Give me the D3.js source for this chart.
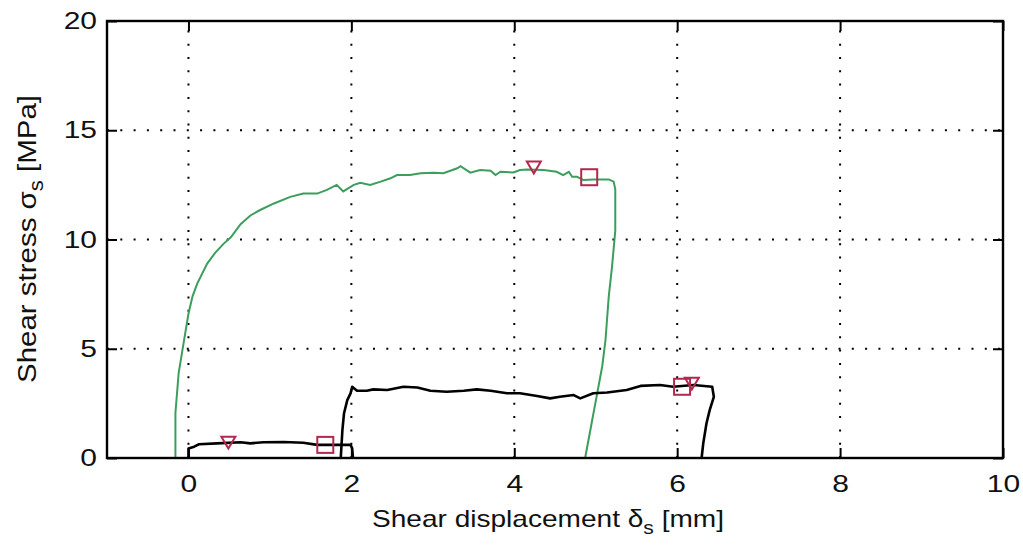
<!DOCTYPE html>
<html><head><meta charset="utf-8">
<script src="https://cdn.jsdelivr.net/npm/d3@7"></script>
<style>body{margin:0;background:#fff}svg{display:block}text{font-family:"Liberation Sans",Arial,sans-serif}</style>
</head><body><svg id="c" width="1023" height="548"></svg>
<script>
// ---- data ----
const xTicks = [0, 2, 4, 6, 8, 10];
const yTicks = [0, 5, 10, 15, 20];
const greenX = [-0.16,-0.16,-0.12,-0.08,-0.04,0.0,0.05,0.11,0.15,0.23,0.33,0.43,0.52,0.64,0.76,0.88,1.05,1.25,1.41,1.58,1.70,1.82,1.90,2.03,2.11,2.23,2.36,2.48,2.56,2.72,2.85,3.01,3.13,3.30,3.34,3.46,3.58,3.71,3.77,3.83,3.99,4.07,4.16,4.36,4.52,4.60,4.67,4.71,4.77,4.85,4.97,5.06,5.16,5.22,5.24,5.24,5.20,5.16,5.12,5.08,5.01,4.95,4.87];
const greenY = [0.0,2.06,3.9,4.8,5.7,6.6,7.4,8.0,8.3,8.9,9.4,9.8,10.1,10.7,11.1,11.35,11.65,11.95,12.1,12.1,12.27,12.5,12.2,12.5,12.6,12.5,12.65,12.8,12.95,12.95,13.03,13.06,13.03,13.26,13.36,13.06,13.18,13.15,12.95,13.1,13.07,13.18,13.2,13.18,13.1,12.95,13.1,12.87,12.87,12.72,12.75,12.75,12.75,12.65,12.3,10.4,8.75,7.4,5.4,4.2,2.8,1.6,0.0];
const black1X = [0.0,0.0,0.07,0.13,0.35,0.64,0.76,0.92,1.17,1.41,1.58,1.99,2.01,2.02];
const black1Y = [0.0,0.44,0.52,0.63,0.67,0.72,0.67,0.72,0.73,0.70,0.60,0.60,0.44,0.0];
const black2X = [1.87,1.89,1.91,1.95,1.99,2.01,2.07,2.19,2.27,2.44,2.64,2.81,2.97,3.17,3.38,3.54,3.71,3.91,4.07,4.28,4.44,4.56,4.73,4.81,4.97,5.14,5.38,5.55,5.79,5.95,6.20,6.43,6.45,6.40,6.36,6.32,6.30];
const black2Y = [0.0,1.28,2.05,2.65,2.96,3.26,3.08,3.08,3.14,3.11,3.26,3.23,3.08,3.03,3.08,3.14,3.08,2.96,2.96,2.84,2.73,2.80,2.88,2.73,2.96,3.00,3.11,3.30,3.34,3.26,3.34,3.26,2.80,2.20,1.59,0.67,0.0];
const triX = [0.49, 4.24, 6.18];
const triY = [0.75, 13.34, 3.45];
const sqX = [1.68, 4.92, 6.06];
const sqY = [0.60, 12.85, 3.26];

// ---- layout ----
const svg = d3.select("#c");
const L = 107, R = 1003, T = 21, B = 458;
const x = d3.scaleLinear().domain([-1, 10]).range([L, R]);
const y = d3.scaleLinear().domain([0, 20]).range([B, T]);
const FS = 24, SX = 1.25;

// grid
const grid = svg.append("g").attr("stroke", "#000").attr("stroke-width", 2)
  .attr("stroke-dasharray", "2 11.3");
xTicks.filter(t => t > -1 && t < 10).forEach(t => {
  grid.append("line").attr("x1", x(t)).attr("x2", x(t)).attr("y1", B).attr("y2", T);
});
yTicks.filter(t => t > 0 && t < 20).forEach(t => {
  grid.append("line").attr("x1", L).attr("x2", R).attr("y1", y(t)).attr("y2", y(t));
});

// axes (ticks inside)
const tl = 10;
const ax = svg.append("g");
ax.append("g").attr("transform", `translate(0,${B})`)
  .call(d3.axisBottom(x).tickValues(xTicks).tickSizeInner(-tl).tickSizeOuter(0).tickPadding(17))
  .call(g => g.select(".domain").remove());
ax.append("g").attr("transform", `translate(0,${T})`)
  .call(d3.axisTop(x).tickValues(xTicks).tickSizeInner(-tl).tickSizeOuter(0).tickFormat(""))
  .call(g => g.select(".domain").remove());
ax.append("g").attr("transform", `translate(${L},0)`)
  .call(d3.axisLeft(y).tickValues(yTicks).tickSizeInner(-tl).tickSizeOuter(0).tickPadding(8))
  .call(g => g.select(".domain").remove());
ax.append("g").attr("transform", `translate(${R},0)`)
  .call(d3.axisRight(y).tickValues(yTicks).tickSizeInner(-tl).tickSizeOuter(0).tickFormat(""))
  .call(g => g.select(".domain").remove());
ax.selectAll(".tick line").attr("stroke", "#000").attr("stroke-width", 2);
ax.selectAll(".tick text").attr("font-size", FS).attr("fill", "#111")
  .attr("font-family", "Liberation Sans, Arial, sans-serif")
  .attr("transform", `scale(${SX},1)`);

// curves
const line = d3.line().x(d => x(d[0])).y(d => y(d[1]));
const curves = svg.append("g");
curves.append("path").datum(greenX.map((v, i) => [v, greenY[i]]))
  .attr("d", line).attr("fill", "none").attr("stroke", "#3c9e5c").attr("stroke-width", 2);
[[black1X, black1Y], [black2X, black2Y]].forEach(([xs, ys]) => {
  curves.append("path").datum(xs.map((v, i) => [v, ys[i]]))
    .attr("d", line).attr("fill", "none").attr("stroke", "#000").attr("stroke-width", 2.6)
    .attr("stroke-linejoin", "round");
});

// markers
const mk = "#b3284d";
const ts = 7;
triX.forEach((v, i) => {
  const cx = x(v), cy = y(triY[i]);
  svg.append("path").attr("d", `M${cx - ts},${cy - ts * 0.7}L${cx + ts},${cy - ts * 0.7}L${cx},${cy + ts}Z`)
    .attr("fill", "none").attr("stroke", mk).attr("stroke-width", 2);
});
const ss = 8;
sqX.forEach((v, i) => {
  svg.append("rect").attr("x", x(v) - ss).attr("y", y(sqY[i]) - ss).attr("width", 2 * ss).attr("height", 2 * ss)
    .attr("fill", "none").attr("stroke", mk).attr("stroke-width", 2);
});

// frame
svg.append("rect").attr("x", L).attr("y", T).attr("width", R - L).attr("height", B - T)
  .attr("fill", "none").attr("stroke", "#000").attr("stroke-width", 2.4);

// axis labels
const xl = svg.append("text").attr("x", 372).attr("y", 527)
  .attr("font-size", FS).attr("fill", "#111")
  .attr("textLength", 352).attr("lengthAdjust", "spacingAndGlyphs");
xl.append("tspan").text("Shear displacement δ");
xl.append("tspan").attr("font-size", FS * 0.75).attr("dy", 7).text("s");
xl.append("tspan").attr("dy", -7).text(" [mm]");

const yl = svg.append("text").attr("transform", `translate(36,383) rotate(-90)`)
  .attr("font-size", 26).attr("fill", "#111")
  .attr("textLength", 288).attr("lengthAdjust", "spacingAndGlyphs");
yl.append("tspan").text("Shear stress σ");
yl.append("tspan").attr("font-size", 26 * 0.75).attr("dy", 7).text("s");
yl.append("tspan").attr("dy", -7).text(" [MPa]");
</script></body></html>
